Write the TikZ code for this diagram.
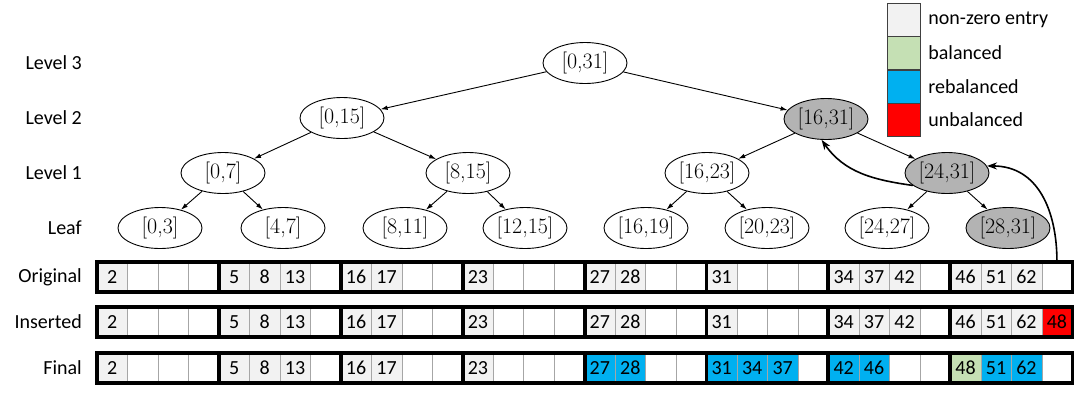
\documentclass[tikz,border=0pt]{standalone}
\usepackage{fontspec}
\newfontfamily\calibri{Carlito}
\usetikzlibrary{shapes.geometric,arrows.meta,positioning}

\definecolor{nzgray}{HTML}{F2F2F2}
\definecolor{balgreen}{HTML}{C5E0B4}
\definecolor{rebblue}{HTML}{00B0F0}
\definecolor{unbred}{HTML}{FF0000}
\definecolor{nodegray}{HTML}{B3B3B3}
\definecolor{cellline}{HTML}{A6A6A6}

\tikzset{
  rangenode/.style={ellipse, draw, line width=0.9pt, minimum width=84pt, minimum height=41pt, inner sep=0pt, font=\fontsize{22}{24}\selectfont},
  touchednode/.style={rangenode, fill=nodegray},
  lvl/.style={anchor=east, inner sep=0pt, font=\calibri\fontsize{20}{22}\selectfont},
  cell/.style={draw=cellline, minimum width=30.475pt, minimum height=30pt, inner sep=0pt, font=\calibri\fontsize{20}{22}\selectfont},
  emptycell/.style={cell, fill=white},
  nzcell/.style={cell, fill=nzgray},
  balcell/.style={cell, fill=balgreen},
  rebcell/.style={cell, fill=rebblue},
  unbcell/.style={cell, fill=unbred},
  blockframe/.style={line width=3.5pt},
  treeedge/.style={-{Latex[length=7pt,width=4.5pt]}, line width=0.9pt},
  moveedge/.style={-{Stealth[length=10pt,width=7pt]}, line width=1.6pt},
  legendbox/.style={draw=black!75, minimum width=33pt, minimum height=33pt, inner sep=0pt},
  legendtext/.style={anchor=west, inner sep=0pt, font=\calibri\fontsize{20}{22}\selectfont}
}

\begin{document}
\begin{tikzpicture}[x=1pt,y=-1pt]
    \useasboundingbox (0,0) rectangle (1080,392);

    % level labels
    \node[lvl] (l3) at (82,63) {Level 3};
    \node[lvl] (l2) at (82,118) {Level 2};
    \node[lvl] (l1) at (82,173) {Level 1};
    \node[lvl] (l0) at (82,228) {Leaf};
    \node[lvl] (lo) at (82,277) {Original};
    \node[lvl] (li) at (82,322) {Inserted};
    \node[lvl] (lf) at (82,368) {Final};

    % the tree
    \node[rangenode] (n0-31) at (585,63) {[0,31]};
    \node[rangenode] (n0-15) at (342,118) {[0,15]};
    \node[touchednode] (n16-31) at (826,119) {[16,31]};
    \node[rangenode] (n0-7) at (223,173) {[0,7]};
    \node[rangenode] (n8-15) at (468,173) {[8,15]};
    \node[rangenode] (n16-23) at (707,173) {[16,23]};
    \node[touchednode] (n24-31) at (947,173) {[24,31]};
    \node[rangenode] (n0-3) at (160,228) {[0,3]};
    \node[rangenode] (n4-7) at (283,228) {[4,7]};
    \node[rangenode] (n8-11) at (405,228) {[8,11]};
    \node[rangenode] (n12-15) at (525,228) {[12,15]};
    \node[rangenode] (n16-19) at (646,228) {[16,19]};
    \node[rangenode] (n20-23) at (767,228) {[20,23]};
    \node[rangenode] (n24-27) at (887,228) {[24,27]};
    \node[touchednode] (n28-31) at (1008,228) {[28,31]};

    \foreach \p/\c in {0-31/0-15, 0-31/16-31, 0-15/0-7, 0-15/8-15, 16-31/16-23, 16-31/24-31,
        0-7/0-3, 0-7/4-7, 8-15/8-11, 8-15/12-15, 16-23/16-19, 16-23/20-23, 24-31/24-27, 24-31/28-31}
        \draw[treeedge] (n\p) -- (n\c);

    % arrays
    \foreach \v/\s [count=\i from 0] in {2/nzcell,{}/emptycell,{}/emptycell,{}/emptycell,
        5/nzcell,8/nzcell,13/nzcell,{}/emptycell, 16/nzcell,17/nzcell,{}/emptycell,{}/emptycell,
        23/nzcell,{}/emptycell,{}/emptycell,{}/emptycell, 27/nzcell,28/nzcell,{}/emptycell,{}/emptycell,
        31/nzcell,{}/emptycell,{}/emptycell,{}/emptycell, 34/nzcell,37/nzcell,42/nzcell,{}/emptycell,
        46/nzcell,51/nzcell,62/nzcell,{}/emptycell}
        \node[\s] (o\i) at ({97+30.475*(\i+0.5)},277) {\v};
    \foreach \v/\s [count=\i from 0] in {2/nzcell,{}/emptycell,{}/emptycell,{}/emptycell,
        5/nzcell,8/nzcell,13/nzcell,{}/emptycell, 16/nzcell,17/nzcell,{}/emptycell,{}/emptycell,
        23/nzcell,{}/emptycell,{}/emptycell,{}/emptycell, 27/nzcell,28/nzcell,{}/emptycell,{}/emptycell,
        31/nzcell,{}/emptycell,{}/emptycell,{}/emptycell, 34/nzcell,37/nzcell,42/nzcell,{}/emptycell,
        46/nzcell,51/nzcell,62/nzcell,48/unbcell}
        \node[\s] (s\i) at ({97+30.475*(\i+0.5)},322) {\v};
    \foreach \v/\s [count=\i from 0] in {2/nzcell,{}/emptycell,{}/emptycell,{}/emptycell,
        5/nzcell,8/nzcell,13/nzcell,{}/emptycell, 16/nzcell,17/nzcell,{}/emptycell,{}/emptycell,
        23/nzcell,{}/emptycell,{}/emptycell,{}/emptycell, 27/rebcell,28/rebcell,{}/emptycell,{}/emptycell,
        31/rebcell,34/rebcell,37/rebcell,{}/emptycell, 42/rebcell,46/rebcell,{}/emptycell,{}/emptycell,
        48/balcell,51/rebcell,62/rebcell,{}/emptycell}
        \node[\s] (f\i) at ({97+30.475*(\i+0.5)},368) {\v};

    \foreach \b [evaluate=\b as \f using int(4*\b), evaluate=\b as \l using int(4*\b+3)] in {0,...,7} {
        \draw[blockframe] (o\f.north west) rectangle (o\l.south east);
        \draw[blockframe] (s\f.north west) rectangle (s\l.south east);
        \draw[blockframe] (f\f.north west) rectangle (f\l.south east);
    }

    % rebalancing moves
    \draw[moveedge] (n24-31.200) to[out=172,in=-55] (n16-31.258);
    \draw[moveedge] (o31.north) to[out=90,in=0,looseness=1.1] (n24-31.10);

    % legend
    \node[legendbox, fill=nzgray] (k1) at (903.5,19.5) {};
    \node[legendbox, fill=balgreen, below=0pt of k1] (k2) {};
    \node[legendbox, fill=rebblue, below=0pt of k2] (k3) {};
    \node[legendbox, fill=unbred, below=0pt of k3] (k4) {};
    \node[legendtext, right=8pt of k1] (t1) {non-zero entry};
    \node[legendtext, right=8pt of k2] (t2) {balanced};
    \node[legendtext, right=8pt of k3] (t3) {rebalanced};
    \node[legendtext, right=8pt of k4] (t4) {unbalanced};
\end{tikzpicture}
\end{document}
